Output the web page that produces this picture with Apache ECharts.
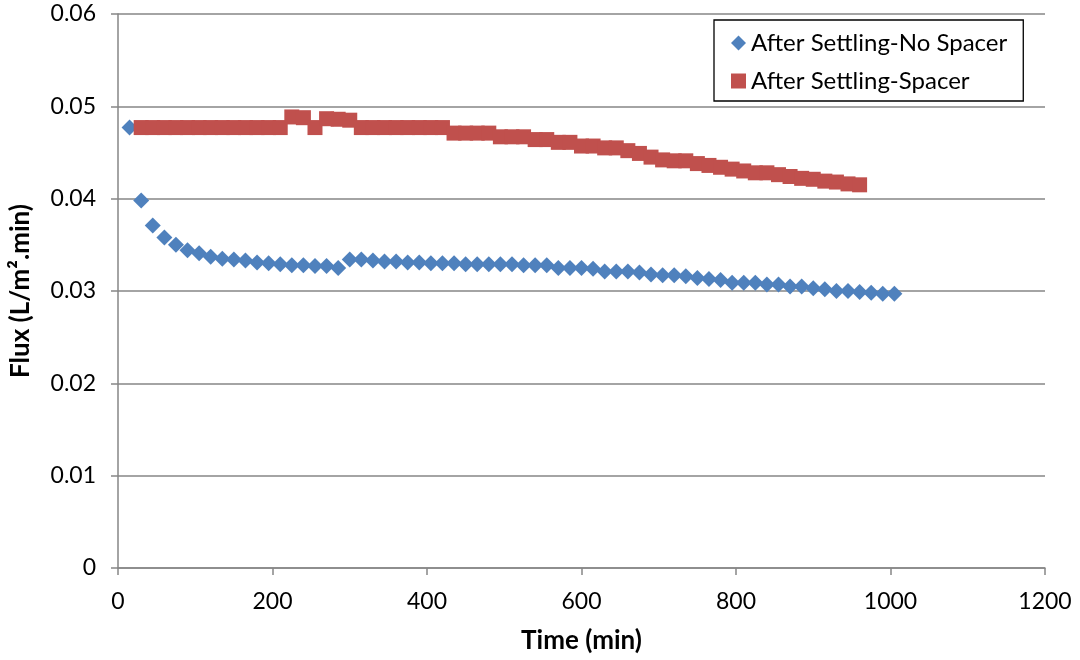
<!DOCTYPE html>
<html>
<head>
<meta charset="utf-8">
<script src="https://cdn.jsdelivr.net/npm/echarts@6/dist/echarts.min.js"></script>
<style>
  html, body { margin: 0; padding: 0; background: #fff; }
  #chart { width: 1080px; height: 660px; }
</style>
</head>
<body>
<div id="chart"></div>
<script>
// Sampling times (min): every 15 minutes
const timesNoSpacer = [];
for (let t = 15; t <= 1005; t += 15) timesNoSpacer.push(t);
const timesSpacer = [];
for (let t = 30; t <= 960; t += 15) timesSpacer.push(t);

// Flux (L/m2.min), after settling, without spacer
const fluxNoSpacer = [
  0.0477, 0.0398, 0.0371, 0.0358, 0.0350, 0.0344, 0.0341, 0.0337, 0.0335, 0.0334,
  0.0333, 0.0331, 0.0330, 0.0329, 0.0328, 0.0328, 0.0327, 0.0327, 0.0325,
  0.0334, 0.0334, 0.0333, 0.0332, 0.0332, 0.0331, 0.0331, 0.0330, 0.0330, 0.0330,
  0.0329, 0.0329, 0.0329, 0.0329, 0.0329, 0.0328, 0.0328, 0.0328,
  0.0325, 0.0325, 0.0325, 0.0324, 0.0321, 0.0321, 0.0321, 0.0320, 0.0318, 0.0317,
  0.0317, 0.0316, 0.0314, 0.0313, 0.0312, 0.0309, 0.0309, 0.0309, 0.0307, 0.0307,
  0.0305, 0.0305, 0.0303, 0.0302, 0.0300, 0.0300, 0.0299, 0.0298, 0.0297, 0.0297
];

// Flux (L/m2.min), after settling, with spacer
const fluxSpacer = [
  0.0477, 0.0477, 0.0477, 0.0477, 0.0477, 0.0477, 0.0477, 0.0477, 0.0477, 0.0477,
  0.0477, 0.0477, 0.0477, 0.04885, 0.04877, 0.0477, 0.04866, 0.0486, 0.0485,
  0.0477, 0.0477, 0.0477, 0.0477, 0.0477, 0.0477, 0.0477, 0.0477,
  0.0471, 0.0471, 0.0471, 0.0471, 0.0467, 0.0467, 0.0467, 0.0464, 0.0464,
  0.0461, 0.0461, 0.0457, 0.0457, 0.0455, 0.0455, 0.0452, 0.0449, 0.0445,
  0.0442, 0.0441, 0.0441, 0.0438, 0.0436, 0.0434, 0.0432, 0.0430, 0.0428, 0.0428,
  0.0426, 0.0424, 0.0422, 0.0421, 0.0419, 0.0418, 0.0416, 0.0415
];

const seriesNames = ['After Settling-No Spacer', 'After Settling-Spacer'];
const xTickLabels = ['0', '200', '400', '600', '800', '1000', '1200'];
const yTickLabels = ['0', '0.01', '0.02', '0.03', '0.04', '0.05', '0.06'];

const pairs = (xs, ys) => xs.map((x, i) => [x, ys[i]]);

const FONT = 'Lato, "Open Sans", sans-serif';
const GRAY = '#868686';

const chart = echarts.init(document.getElementById('chart'), null, { renderer: 'canvas' });
chart.setOption({
  animation: false,
  backgroundColor: '#ffffff',
  textStyle: { fontFamily: FONT },
  grid: { left: 118, right: 35, top: 14, bottom: 92, containLabel: false },
  legend: {
    left: 714, top: 20,
    orient: 'vertical',
    backgroundColor: '#ffffff',
    borderColor: '#000000', borderWidth: 1.3,
    padding: [11, 16, 8, 17],
    itemGap: 14,
    itemWidth: 15, itemHeight: 15,
    textStyle: { fontFamily: FONT, fontSize: 24, color: '#000' },
    data: [
      { name: seriesNames[0], icon: 'diamond' },
      { name: seriesNames[1], icon: 'rect' }
    ]
  },
  xAxis: {
    type: 'value', min: 0, max: 1200, interval: 200,
    name: 'Time (min)', nameLocation: 'middle', nameGap: 60,
    nameTextStyle: { fontFamily: FONT, fontSize: 26, fontWeight: 'bold', color: '#000' },
    axisLine: { show: true, lineStyle: { color: GRAY, width: 1.5 } },
    axisTick: { show: true, length: 7, lineStyle: { color: GRAY, width: 1.5 } },
    axisLabel: {
      fontFamily: FONT, fontSize: 23, color: '#000', margin: 22,
      formatter: v => xTickLabels[Math.round(v / 200)]
    },
    splitLine: { show: false }
  },
  yAxis: {
    type: 'value', min: 0, max: 0.06, interval: 0.01,
    name: 'Flux (L/m\u00B2.min)', nameLocation: 'middle', nameGap: 84,
    nameTextStyle: { fontFamily: FONT, fontSize: 26, fontWeight: 'bold', color: '#000' },
    axisLine: { show: true, lineStyle: { color: GRAY, width: 1.5 } },
    axisTick: { show: true, length: 7, lineStyle: { color: GRAY, width: 1.5 } },
    axisLabel: {
      fontFamily: FONT, fontSize: 23, color: '#000', margin: 22,
      formatter: v => yTickLabels[Math.round(v / 0.01)]
    },
    splitLine: { show: true, lineStyle: { color: GRAY, width: 1.5 } }
  },
  series: [
    {
      name: seriesNames[0], type: 'scatter',
      symbol: 'diamond', symbolSize: 16,
      itemStyle: { color: '#4F81BD', opacity: 1 },
      data: pairs(timesNoSpacer, fluxNoSpacer)
    },
    {
      name: seriesNames[1], type: 'scatter',
      symbol: 'rect', symbolSize: 15,
      itemStyle: { color: '#C0504D', opacity: 1 },
      data: pairs(timesSpacer, fluxSpacer)
    }
  ]
});
</script>
</body>
</html>
